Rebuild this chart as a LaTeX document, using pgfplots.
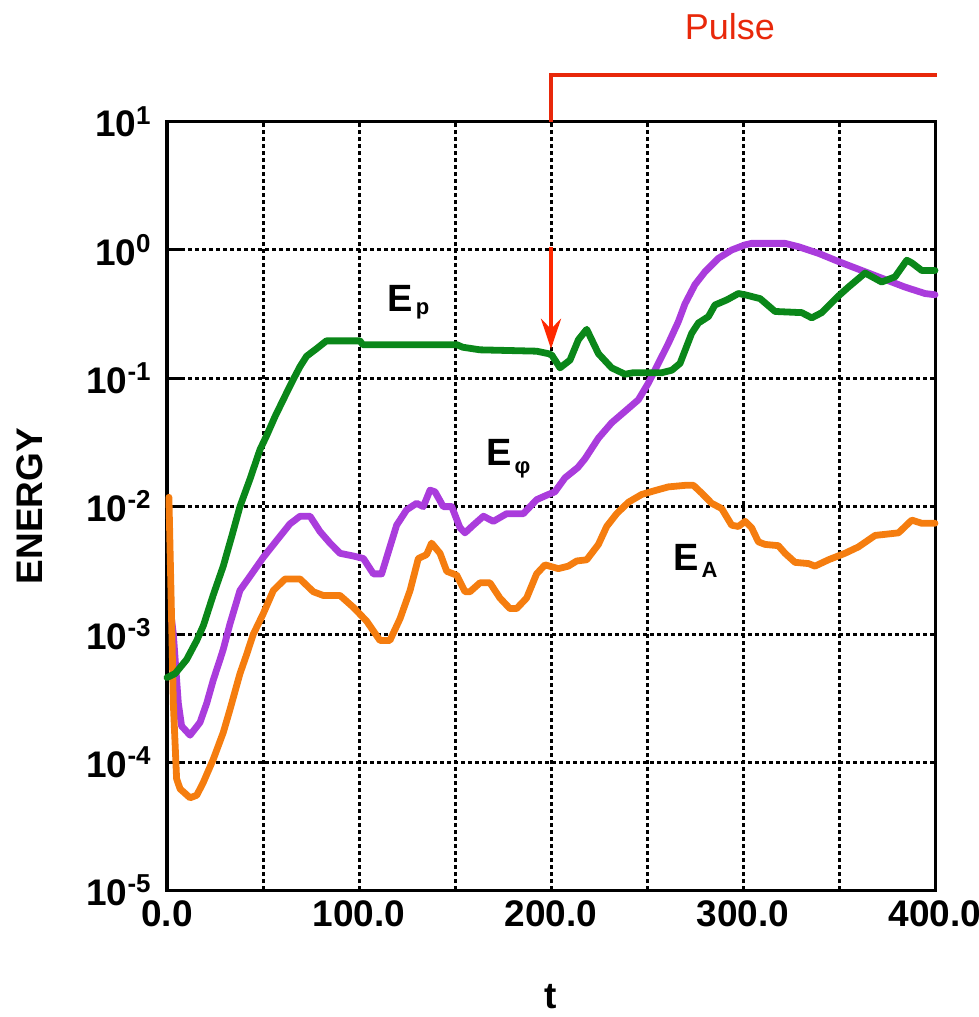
\documentclass[border=0pt]{standalone}
\usepackage{fontspec}
\setmainfont{Liberation Sans}
\usepackage{pgfplots}
\pgfplotsset{compat=1.18}
\usetikzlibrary{arrows.meta}
\definecolor{cgreen}{RGB}{10,135,25}
\definecolor{cpurple}{RGB}{170,60,220}
\definecolor{corange}{RGB}{245,125,15}
\definecolor{cred}{RGB}{232,40,10}
\definecolor{carrow}{RGB}{255,40,0}
\begin{document}
\begin{tikzpicture}
\useasboundingbox (0,0) rectangle (489.5pt,508.5pt);
\begin{axis}[
  at={(83.5pt,63.5pt)}, anchor=south west,
  scale only axis, width=384pt, height=384pt,
  xmin=0, xmax=400, ymode=log, ymin=1e-5, ymax=10,
  xtick={0,50,...,400},
  xticklabels={0.0,,100.0,,200.0,,300.0,,400.0},
  ytick={1e-5,1e-4,1e-3,1e-2,1e-1,1,10},
  yticklabels={10\textsuperscript{-5},10\textsuperscript{-4},10\textsuperscript{-3},10\textsuperscript{-2},10\textsuperscript{-1},10\textsuperscript{0},10\textsuperscript{1}},
  yminorticks=false,
  ytick pos=left,
  xtick style={draw=none},
  ytick style={black, line width=1.5pt},
  major tick length=8.5pt,
  grid=major,
  major grid style={black, line width=1.5pt, dash pattern=on 1.8pt off 1.7pt},
  axis line style={line width=1.5pt},
  tick label style={font=\fontsize{18.5}{20}\selectfont\bfseries},
  yticklabel style={inner sep=0pt, anchor=east, xshift=-7.5pt},
  xticklabel style={inner sep=0pt, anchor=north, yshift=-5pt},
  label style={font=\fontsize{18.5}{20}\selectfont\bfseries},
  xlabel={t}, ylabel={ENERGY},
  xlabel style={at={(rel axis cs:0.5,-0.1393)}, anchor=center},
  ylabel style={at={(rel axis cs:-0.1784,0.5)}, anchor=center, rotate=0},
  clip=false,
  every axis plot/.append style={line width=3.4pt, line join=round, line cap=round},
]
% E_phi
\addplot[cpurple] coordinates {
(2.4,1.29e-3)(3.3,1.0e-3)(5.9,2.88e-4)(7.6,1.91e-4)(12,1.62e-4)(17.2,2.04e-4)
(20.7,2.88e-4)(24.1,4.37e-4)(27.6,6.31e-4)(29.3,7.59e-4)(32.8,1.20e-3)(38,2.19e-3)
(43.2,2.82e-3)(50.2,3.98e-3)(57.1,5.37e-3)(64,7.24e-3)(69.3,8.32e-3)(74.5,8.32e-3)
(79.7,6.31e-3)(84.9,5.13e-3)(90.1,4.27e-3)(97,4.07e-3)(102.3,3.89e-3)(107.5,2.95e-3)
(111.8,2.95e-3)(116.1,4.79e-3)(119.6,7.08e-3)(124.8,9.33e-3)(130,1.05e-2)(133.5,9.89e-3)
(137,1.33e-2)(139.6,1.29e-2)(143.9,9.89e-3)(148.3,9.89e-3)(152.6,6.76e-3)(155.2,6.17e-3)
(159.5,7.08e-3)(164.8,8.32e-3)(170,7.59e-3)(176.9,8.71e-3)(185.6,8.71e-3)(192.5,1.12e-2)
(198.6,1.23e-2)(202,1.29e-2)(207.3,1.66e-2)(214,2.0e-2)(217.7,2.34e-2)(224.7,3.39e-2)
(231.6,4.47e-2)(238.6,5.50e-2)(245.5,6.76e-2)(250.7,9.12e-2)(255.9,0.130)(261.1,0.186)
(266.3,0.275)(269.8,0.380)(275,0.537)(280.2,0.676)(287.2,0.861)(294.1,1.0)(301,1.096)
(304.5,1.127)(321.9,1.127)(328.8,1.062)(339.3,0.942)(349.7,0.813)(363.6,0.676)
(372.2,0.603)(384.4,0.513)(394.8,0.457)(400,0.447)
};
% E_A
\addplot[corange] coordinates {
(1,1.17e-2)(2.4,1.29e-3)(3.3,2.88e-4)(5,7.41e-5)(6.8,6.17e-5)(12,5.25e-5)(15.5,5.50e-5)
(18.9,6.92e-5)(24.1,1.05e-4)(29.3,1.70e-4)(32.8,2.57e-4)(38,4.90e-4)(41,6.6e-4)(45,1.0e-3)
(50.2,1.45e-3)(55.4,2.19e-3)(61.5,2.69e-3)(69.3,2.69e-3)(76.2,2.14e-3)(81.4,2.0e-3)
(90.1,2.0e-3)(97,1.62e-3)(104,1.26e-3)(110.9,8.91e-4)(116.1,8.91e-4)(121.4,1.32e-3)
(126.6,2.19e-3)(130.9,3.89e-3)(135.2,4.17e-3)(137.8,5.13e-3)(142.2,4.27e-3)(145.7,3.09e-3)
(150.9,2.88e-3)(155.2,2.14e-3)(157.8,2.14e-3)(163,2.51e-3)(168.2,2.51e-3)(173.4,1.91e-3)
(178.6,1.58e-3)(182.1,1.58e-3)(187.3,1.91e-3)(192.5,2.95e-3)(196.9,3.47e-3)(203.8,3.24e-3)
(209,3.39e-3)(213.4,3.72e-3)(218.6,3.80e-3)(224.7,5.01e-3)(229,6.92e-3)(234.2,8.71e-3)
(240.3,1.07e-2)(247.2,1.23e-2)(254.2,1.32e-2)(261.1,1.41e-2)(269.8,1.45e-2)(274.2,1.45e-2)
(278.5,1.26e-2)(283.7,1.05e-2)(288.9,9.55e-3)(294.1,7.08e-3)(297.6,6.92e-3)(301.1,7.59e-3)
(304.5,6.76e-3)(308,5.25e-3)(311.5,5.01e-3)(318.4,4.90e-3)(321.9,4.27e-3)(327.1,3.63e-3)
(334.1,3.55e-3)(337.5,3.39e-3)(344.5,3.80e-3)(353.1,4.27e-3)(360.1,4.79e-3)(368.8,5.89e-3)
(381,6.17e-3)(387.9,7.76e-3)(393.1,7.33e-3)(400,7.33e-3)
};
% E_p
\addplot[cgreen] coordinates {
(0,4.57e-4)(4.2,4.9e-4)(10.2,6.31e-4)(15.5,8.9e-4)(19,1.17e-3)(24,2.0e-3)(29.3,3.39e-3)
(34,6.0e-3)(38,9.9e-3)(43.2,1.62e-2)(48.4,2.75e-2)(51.9,3.55e-2)(56.3,5.01e-2)(61.5,7.24e-2)
(65.8,9.77e-2)(69.3,0.123)(72.7,0.148)(78,0.170)(83,0.195)(100.5,0.195)(102,0.182)
(151,0.182)(154,0.174)(163,0.166)(192.5,0.162)(198.6,0.155)(200.4,0.151)(204.7,0.120)
(209.9,0.138)(214.3,0.1995)(218.6,0.240)(224.7,0.155)(231.6,0.120)(238.6,0.107)
(242.9,0.110)(257.7,0.110)(262.9,0.115)(267.2,0.130)(273.3,0.224)(276.8,0.269)(282,0.302)
(285.4,0.372)(291.5,0.407)(297.6,0.457)(301,0.447)(308.9,0.417)(316.7,0.331)(330.6,0.324)
(335.8,0.295)(341,0.324)(349.7,0.437)(354.9,0.513)(363.6,0.661)(372.2,0.562)(379.2,0.617)
(385.3,0.832)(387.9,0.794)(393.1,0.692)(400,0.692)
};
% pulse annotation
\draw[cred, line width=2.4pt, line join=miter, line cap=butt]
  (axis cs:200,10) -- (axis cs:200,23.3) -- (axis cs:400.9,23.3);
\node[text=cred, anchor=base, font=\fontsize{18}{18}\selectfont] at (axis cs:293.2,44.5) {Pulse};
\draw[carrow, line width=2pt, -{Stealth[length=15pt, width=10pt, inset=5pt]}]
  (axis cs:200,1.06) -- (axis cs:200,0.169);
% curve labels
\node[anchor=base west, inner sep=0pt, font=\fontsize{19}{19}\selectfont\bfseries]
  at (axis cs:114.6,0.328) {E\hspace{1.5pt}\raisebox{-1.5pt}{\fontsize{11}{11}\selectfont p}};
\node[anchor=base west, inner sep=0pt, font=\fontsize{19}{19}\selectfont\bfseries]
  at (axis cs:166.1,0.0209) {E\hspace{1.5pt}\raisebox{-4pt}{\fontsize{11}{11}\selectfont φ}};
\node[anchor=base west, inner sep=0pt, font=\fontsize{19}{19}\selectfont\bfseries]
  at (axis cs:263.5,3.16e-3) {E\hspace{1.5pt}\raisebox{-3.5pt}{\fontsize{11}{11}\selectfont A}};
\end{axis}
\end{tikzpicture}
\end{document}
